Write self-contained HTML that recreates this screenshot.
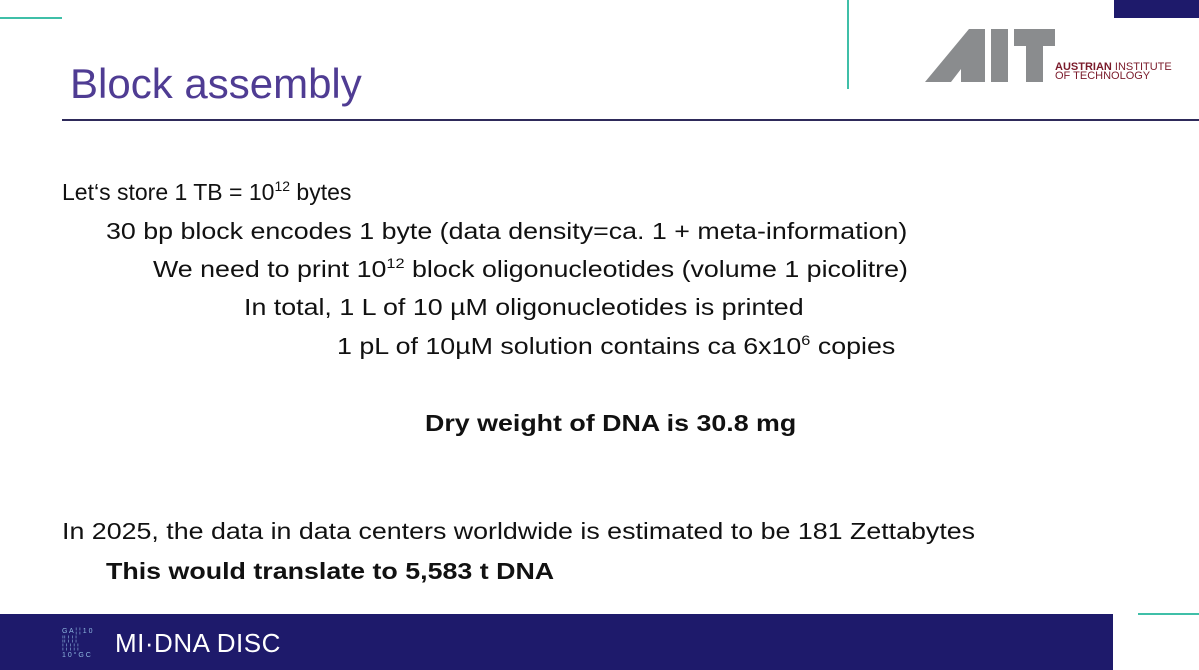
<!DOCTYPE html>
<html><head><meta charset="utf-8"><style>
body{margin:0;width:1199px;height:670px;position:relative;overflow:hidden;background:#fff;font-family:"Liberation Sans",sans-serif;}
.a{position:absolute;}
.t{position:absolute;font-size:23px;color:#111;white-space:nowrap;line-height:1;transform-origin:0 50%;transform:scaleX(1.165);}
sup{font-size:14px;vertical-align:9px;line-height:0}
b{font-weight:bold}
</style></head><body>
<div class="a" style="left:0;top:17px;width:62px;height:2px;background:#3fbfa8"></div>
<div class="a" style="left:847px;top:0;width:2px;height:89px;background:#3fbfa8"></div>
<div class="a" style="left:1114px;top:0;width:85px;height:18px;background:#1e1a6b"></div>
<div class="a" style="left:70px;top:63px;font-size:42px;color:#4f3c93;line-height:1;white-space:nowrap">Block assembly</div>
<div class="a" style="left:62px;top:119px;width:1137px;height:2px;background:#2e2a5a"></div>
<svg class="a" style="left:925px;top:29px" width="130" height="54"><polygon points="0,53 44,0 60,0 60,53 36,53 36,40 26,53" fill="#8a8c8e"/><rect x="66" y="0" width="17" height="53" fill="#8a8c8e"/><polygon points="89,0 130,0 130,17 118,17 118,53 101,53 101,17 89,17" fill="#8a8c8e"/></svg>
<div class="a" style="left:1055px;top:63px;font-size:11px;line-height:9px;color:#7a1a2a;white-space:nowrap"><b>AUSTRIAN</b> INSTITUTE<br>OF TECHNOLOGY</div>
<div class="t" style="left:62px;top:181px;transform:none">Let‘s store 1 TB = 10<sup>12</sup> bytes</div>
<div class="t" style="left:106px;top:220px">30 bp block encodes 1 byte (data density=ca. 1 + meta-information)</div>
<div class="t" style="left:153px;top:258px">We need to print 10<sup>12</sup> block oligonucleotides (volume 1 picolitre)</div>
<div class="t" style="left:244px;top:296px">In total, 1 L of 10 µM oligonucleotides is printed</div>
<div class="t" style="left:337px;top:335px">1 pL of 10µM solution contains ca 6x10<sup>6</sup> copies</div>
<div class="t" style="left:425px;top:412px;font-weight:bold">Dry weight of DNA is 30.8 mg</div>
<div class="t" style="left:62px;top:520px">In 2025, the data in data centers worldwide is estimated to be 181 Zettabytes</div>
<div class="t" style="left:106px;top:560px;font-weight:bold">This would translate to 5,583 t DNA</div>
<div class="a" style="left:0;top:614px;width:1113px;height:56px;background:#1e1a6b"></div>
<div class="a" style="left:1138px;top:613px;width:61px;height:2px;background:#3fbfa8"></div>
<div class="a" style="left:62px;top:628px;width:42px;height:34px;font-size:7px;color:#8fb8e0;line-height:8px">G A ¦ ¦ 1 0<br>¦¦ ¦ ¦ ¦<br>¦ ¦ ¦ ¦ ¦<br>1 0 ° G C</div>
<div class="a" style="left:115px;top:630px;font-size:26px;color:#fff;line-height:1;white-space:nowrap;letter-spacing:0.5px">MI·DNA DISC</div>
</body></html>
